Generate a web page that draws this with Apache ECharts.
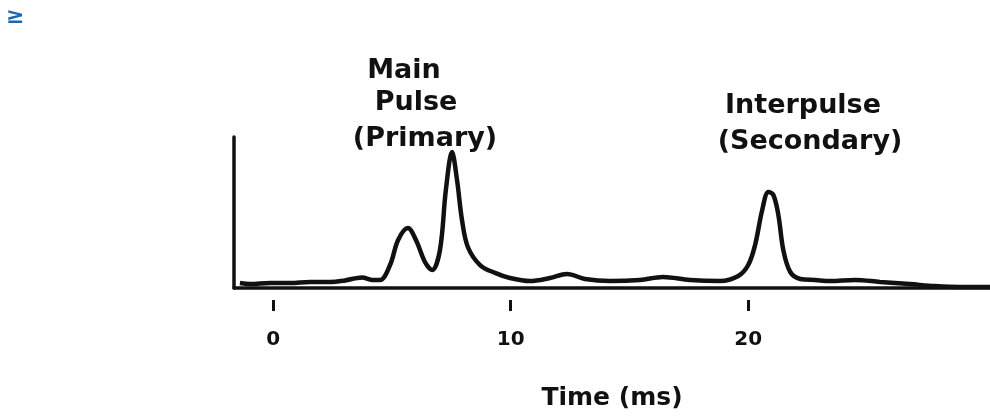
<!DOCTYPE html>
<html>
<head>
<meta charset="utf-8">
<script src="https://cdn.jsdelivr.net/npm/echarts@6/dist/echarts.min.js"></script>
<style>html,body{margin:0;padding:0;background:#fff;}#c{width:990px;height:418px;}</style>
</head>
<body>
<div id="c"></div>
<script>
// Time (ms) and relative intensity
const times = [-1.40,-0.98,-0.13,0.71,1.55,2.39,3.02,3.74,4.16,4.50,4.92,5.26,5.67,6.01,6.39,6.69,7.02,7.27,7.53,7.74,7.95,8.20,8.71,9.34,9.97,10.81,11.65,12.37,13.13,14.18,15.44,16.41,17.55,18.81,19.58,20.00,20.29,20.59,20.85,21.06,21.27,21.48,21.77,22.19,22.82,23.45,24.50,25.55,26.81,27.87,28.92,30.18];
const intensity = [0.033,0.026,0.033,0.033,0.040,0.040,0.050,0.070,0.053,0.053,0.152,0.318,0.397,0.318,0.172,0.119,0.250,0.649,0.900,0.715,0.450,0.270,0.152,0.100,0.066,0.046,0.066,0.093,0.060,0.046,0.053,0.073,0.053,0.046,0.079,0.152,0.285,0.517,0.636,0.616,0.483,0.250,0.106,0.060,0.053,0.046,0.053,0.040,0.026,0.013,0.007,0.007];
const tickValues = [0, 10, 20];
const tickLabels = ['0', '10', '20'];
const axisTitle = 'Time (ms)';
const mainLabel = ['Main', 'Pulse', '(Primary)'];
const interLabel = ['Interpulse', '(Secondary)'];

const xMin = -1.65, xMax = 30.18;
const ink = '#111';
const font = 'DejaVu Sans';

const chart = echarts.init(document.getElementById('c'));
function place(s, cx, base){
  return {type:'text', x:cx, y:base, style:{text:s, align:'center', verticalAlign:'alphabetic', fill:ink, fontFamily:font, fontWeight:'bold', fontSize:27}};
}
chart.setOption({
  animation:false,
  backgroundColor:'#fff',
  grid:{left:234, right:0, top:137, bottom:130, containLabel:false},
  xAxis:[{
    type:'value', min:xMin, max:xMax,
    axisLine:{show:true, onZero:false, lineStyle:{color:ink, width:3.5}},
    axisTick:{show:false}, axisLabel:{show:false}, splitLine:{show:false}
  },{
    type:'value', min:xMin, max:xMax, position:'bottom', offset:12,
    axisLine:{show:false, onZero:false},
    axisTick:{show:true, length:11, inside:false, customValues:tickValues, lineStyle:{color:ink, width:3}},
    axisLabel:{show:true, customValues:tickValues, margin:30, color:ink, fontFamily:font, fontWeight:'bold', fontSize:20,
      formatter:(v)=>{const i=tickValues.indexOf(v); return i>=0?tickLabels[i]:'';}},
    splitLine:{show:false},
    name:axisTitle, nameLocation:'middle', nameGap:86,
    nameTextStyle:{color:ink, fontFamily:font, fontWeight:'bold', fontSize:25}
  }],
  yAxis:{
    type:'value', min:0, max:1, position:'left',
    axisLine:{show:true, onZero:false, lineStyle:{color:ink, width:3.5}},
    axisTick:{show:false}, axisLabel:{show:false}, splitLine:{show:false}
  },
  graphic:[
    {type:'text', left:6, top:6, style:{text:'≥', fill:'#1f66b0', fontFamily:font, fontWeight:'bold', fontSize:22}},
    place(mainLabel[0], 404, 57),
    place(mainLabel[1], 416, 89),
    place(mainLabel[2], 425, 125),
    place(interLabel[0], 803, 92),
    place(interLabel[1], 810, 128)
  ],
  series:[{
    type:'line', xAxisIndex:0, data:times.map((t,i)=>[t,intensity[i]]),
    smooth:0.35, showSymbol:false, symbol:'none',
    lineStyle:{color:ink, width:4.5}
  }]
});
</script>
</body>
</html>
